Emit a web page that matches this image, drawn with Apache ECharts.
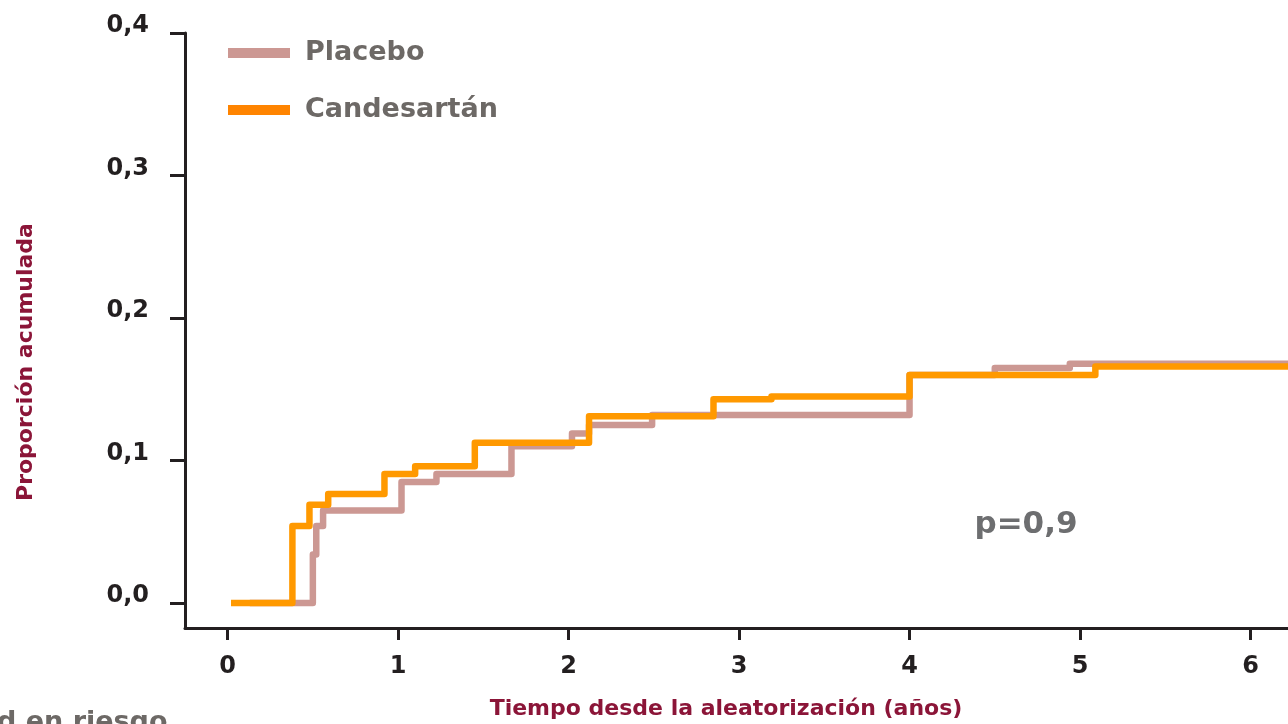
<!DOCTYPE html>
<html>
<head>
<meta charset="utf-8">
<script src="https://cdn.jsdelivr.net/npm/echarts@6/dist/echarts.min.js"></script>
<style>
  html, body { margin: 0; padding: 0; background: #fff; }
  #box1 { width: 1288px; height: 724px; }
</style>
</head>
<body>
<div id="box1"></div>
<script>
// puntos de la curva: [años, proporción] -> step 'end'
var placebo = [
    [0.13, 0], [0.50, 0.034], [0.52, 0.054], [0.56, 0.065], [1.02, 0.085],
    [1.225, 0.0905], [1.665, 0.110], [2.02, 0.119], [2.12, 0.125], [2.49, 0.132],
    [4.00, 0.160], [4.50, 0.165], [4.94, 0.168], [6.25, 0.168]
];
var candesartan = [
    [0.02, 0], [0.38, 0.054], [0.48, 0.069], [0.59, 0.0765], [0.92, 0.0905],
    [1.10, 0.096], [1.45, 0.1125], [2.12, 0.131], [2.85, 0.143], [3.19, 0.145],
    [4.00, 0.160], [5.09, 0.166], [6.25, 0.166]
];
var xTicks = [0, 1, 2, 3, 4, 5, 6];
var yTicks = [0, 0.1, 0.2, 0.3, 0.4];
var seriesNames = ['Placebo', 'Candesartán'];

window.onload = function () {
    var myChart = echarts.init(document.getElementById('box1'));
    var font = '"DejaVu Sans", Arial, sans-serif';
    var axisColor = '#231F20';
    var nameColor = '#8B1538';

    var option = {
        animation: false,
        grid: { left: 185, right: 0, top: 33, bottom: 96 },
        legend: {
            left: 228, top: 38, orient: 'vertical', padding: 0,
            icon: 'rect', itemWidth: 62, itemHeight: 10, itemGap: 27,
            textStyle: { fontFamily: font, fontWeight: 'bold', fontSize: 27, color: '#6D6966', lineHeight: 30, padding: [0, 0, 0, 10] },
            data: [
                { name: seriesNames[0], itemStyle: { color: '#CC9893' } },
                { name: seriesNames[1], itemStyle: { color: '#FF8400' } }
            ]
        },
        xAxis: {
            type: 'value', min: -0.25, max: 6.22,
            splitLine: { show: false },
            axisLine: { onZero: false, lineStyle: { color: axisColor, width: 3 } },
            axisTick: { customValues: xTicks, length: 12, lineStyle: { color: axisColor, width: 3 } },
            axisLabel: {
                customValues: xTicks, margin: 27,
                fontFamily: font, fontWeight: 'bold', fontSize: 24, color: axisColor
            }
        },
        yAxis: {
            type: 'value', min: -0.0175, max: 0.4,
            splitLine: { show: false },
            axisLine: { show: true, onZero: false, lineStyle: { color: axisColor, width: 3 } },
            axisTick: { show: true, customValues: yTicks, length: 15, lineStyle: { color: axisColor, width: 3 } },
            axisLabel: {
                customValues: yTicks, margin: 36,
                fontFamily: font, fontWeight: 'bold', fontSize: 24, color: axisColor,
                verticalAlign: 'bottom', lineHeight: 14,
                formatter: function (v) { return v.toFixed(1).replace('.', ','); }
            }
        },
        graphic: [
            {
                type: 'text', x: 26, y: 362, rotation: Math.PI / 2,
                style: { text: 'Proporción acumulada', fill: nameColor, font: 'bold 22px ' + font, align: 'center', verticalAlign: 'middle' }
            },
            {
                type: 'text', x: 726, y: 709,
                style: { text: 'Tiempo desde la aleatorización (años)', fill: nameColor, font: 'bold 22px ' + font, align: 'center', verticalAlign: 'middle' }
            },
            {
                type: 'text', x: 1026, y: 525,
                style: { text: 'p=0,9', fill: '#6D6E70', font: 'bold 31px ' + font, align: 'center', verticalAlign: 'middle' }
            },
            {
                type: 'text', x: -3, y: 709,
                style: { text: 'd en riesgo', fill: '#6D6966', font: 'bold 27px ' + font, align: 'left', verticalAlign: 'top' }
            }
        ],
        series: [
            {
                name: seriesNames[0], type: 'line', step: 'end', data: placebo,
                symbol: 'none', color: '#CC9893',
                lineStyle: { width: 6.5, color: '#CC9893', join: 'round' }
            },
            {
                name: seriesNames[1], type: 'line', step: 'end', data: candesartan,
                symbol: 'none', color: '#FF9900',
                lineStyle: { width: 6.5, color: '#FF9900', join: 'round' }
            }
        ]
    };
    myChart.setOption(option);
    window.addEventListener('resize', function () {
        myChart.resize();
    });
};
</script>
</body>
</html>
